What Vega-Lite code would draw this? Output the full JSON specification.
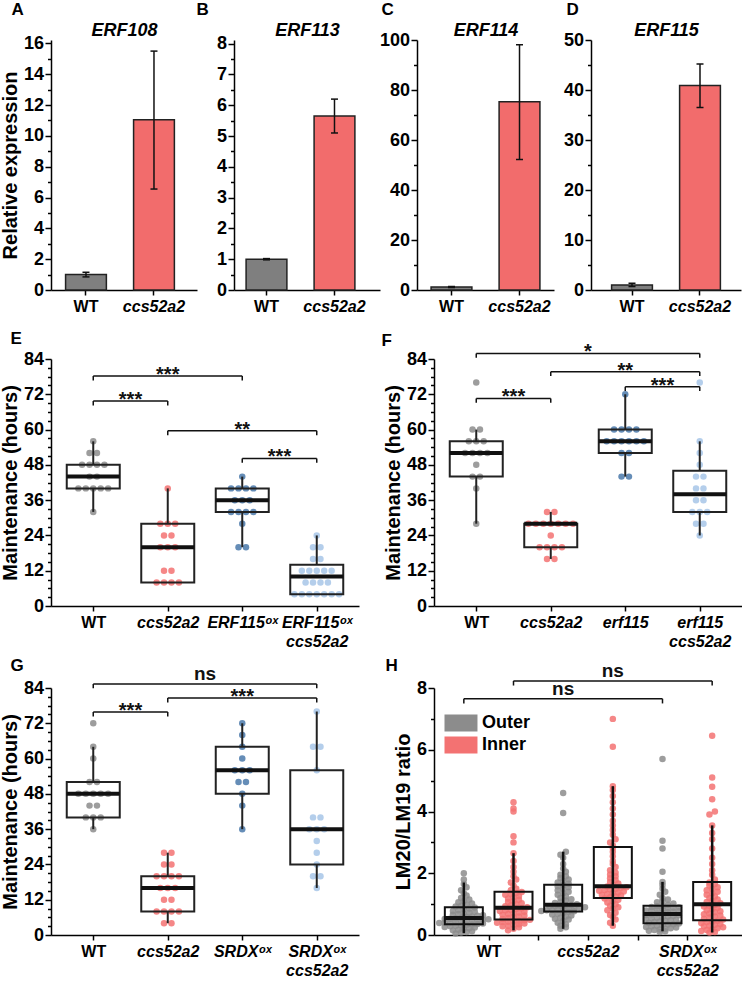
{
"$schema":"https://vega.github.io/schema/vega-lite/v6.json",
"padding":{"left":0,"top":0,"right":0,"bottom":0},
"background":"white",
"config":{
 "font":"Liberation Sans",
 "view":{"stroke":null},
 "axis":{"grid":false,"domainColor":"#000","domainWidth":1.5,"tickColor":"#000","tickWidth":1.5,"labelColor":"#000","labelFont":"Liberation Sans","labelFontWeight":"bold","labelFontSize":18,"titleFont":"Liberation Sans","titleFontWeight":"bold","titleFontSize":20,"titleColor":"#000","labelPadding":1.5,"titlePadding":3,"labelOverlap":false,"tickSize":6},
 "axisX":{"labelFontSize":16,"labelAngle":0,"tickSize":5,"labelPadding":3,"labelLineHeight":19},
 "legend":{"padding":0}
},
"datasets":{
 "eDots":[
  {"g":"WT","v":56},{"g":"WT","v":52},{"g":"WT","v":52},{"g":"WT","v":48},{"g":"WT","v":48},{"g":"WT","v":48},{"g":"WT","v":48},{"g":"WT","v":44},{"g":"WT","v":44},{"g":"WT","v":40},{"g":"WT","v":40},{"g":"WT","v":40},{"g":"WT","v":40},{"g":"WT","v":40},{"g":"WT","v":32},
  {"g":"ccs52a2","v":40},{"g":"ccs52a2","v":28},{"g":"ccs52a2","v":28},{"g":"ccs52a2","v":28},{"g":"ccs52a2","v":24},{"g":"ccs52a2","v":24},{"g":"ccs52a2","v":20},{"g":"ccs52a2","v":20},{"g":"ccs52a2","v":20},{"g":"ccs52a2","v":12},{"g":"ccs52a2","v":12},{"g":"ccs52a2","v":8},{"g":"ccs52a2","v":8},{"g":"ccs52a2","v":8},{"g":"ccs52a2","v":8},
  {"g":"ERF115ox","v":44},{"g":"ERF115ox","v":40},{"g":"ERF115ox","v":40},{"g":"ERF115ox","v":40},{"g":"ERF115ox","v":40},{"g":"ERF115ox","v":36},{"g":"ERF115ox","v":36},{"g":"ERF115ox","v":36},{"g":"ERF115ox","v":32},{"g":"ERF115ox","v":32},{"g":"ERF115ox","v":32},{"g":"ERF115ox","v":32},{"g":"ERF115ox","v":28},{"g":"ERF115ox","v":20},{"g":"ERF115ox","v":20},
  {"g":"ERF115ox ccs52a2","v":24},{"g":"ERF115ox ccs52a2","v":20},{"g":"ERF115ox ccs52a2","v":20},{"g":"ERF115ox ccs52a2","v":16},{"g":"ERF115ox ccs52a2","v":16},{"g":"ERF115ox ccs52a2","v":12},{"g":"ERF115ox ccs52a2","v":12},{"g":"ERF115ox ccs52a2","v":12},{"g":"ERF115ox ccs52a2","v":12},{"g":"ERF115ox ccs52a2","v":12},{"g":"ERF115ox ccs52a2","v":8},{"g":"ERF115ox ccs52a2","v":8},{"g":"ERF115ox ccs52a2","v":8},{"g":"ERF115ox ccs52a2","v":8},{"g":"ERF115ox ccs52a2","v":4},{"g":"ERF115ox ccs52a2","v":4},{"g":"ERF115ox ccs52a2","v":4},{"g":"ERF115ox ccs52a2","v":4},{"g":"ERF115ox ccs52a2","v":4},{"g":"ERF115ox ccs52a2","v":4},{"g":"ERF115ox ccs52a2","v":4}
 ],
 "eBox":[
  {"g":"WT","lo":32,"q1":40,"med":44,"q3":48,"hi":56},
  {"g":"ccs52a2","lo":8,"q1":8,"med":20,"q3":28,"hi":40},
  {"g":"ERF115ox","lo":20,"q1":32,"med":36,"q3":40,"hi":44},
  {"g":"ERF115ox ccs52a2","lo":4,"q1":4,"med":10,"q3":14,"hi":24}
 ],
 "eBr":[
  {"a":"WT","b":"ERF115ox","y":78.2,"lab":"***"},
  {"a":"WT","b":"ccs52a2","y":69.7,"lab":"***"},
  {"a":"ccs52a2","b":"ERF115ox ccs52a2","y":59.6,"lab":"**"},
  {"a":"ERF115ox","b":"ERF115ox ccs52a2","y":50.2,"lab":"***"}
 ],
 "fDots":[
  {"g":"WT","v":76},{"g":"WT","v":60},{"g":"WT","v":60},{"g":"WT","v":56},{"g":"WT","v":56},{"g":"WT","v":56},{"g":"WT","v":52},{"g":"WT","v":52},{"g":"WT","v":52},{"g":"WT","v":52},{"g":"WT","v":48},{"g":"WT","v":44},{"g":"WT","v":44},{"g":"WT","v":40},{"g":"WT","v":28},
  {"g":"ccs52a2","v":32},{"g":"ccs52a2","v":32},{"g":"ccs52a2","v":28},{"g":"ccs52a2","v":28},{"g":"ccs52a2","v":28},{"g":"ccs52a2","v":28},{"g":"ccs52a2","v":28},{"g":"ccs52a2","v":28},{"g":"ccs52a2","v":28},{"g":"ccs52a2","v":24},{"g":"ccs52a2","v":20},{"g":"ccs52a2","v":20},{"g":"ccs52a2","v":20},{"g":"ccs52a2","v":20},{"g":"ccs52a2","v":16},{"g":"ccs52a2","v":16},
  {"g":"erf115","v":72},{"g":"erf115","v":60},{"g":"erf115","v":60},{"g":"erf115","v":60},{"g":"erf115","v":60},{"g":"erf115","v":56},{"g":"erf115","v":56},{"g":"erf115","v":56},{"g":"erf115","v":56},{"g":"erf115","v":56},{"g":"erf115","v":56},{"g":"erf115","v":52},{"g":"erf115","v":52},{"g":"erf115","v":44},{"g":"erf115","v":44},
  {"g":"erf115 ccs52a2","v":76},{"g":"erf115 ccs52a2","v":56},{"g":"erf115 ccs52a2","v":52},{"g":"erf115 ccs52a2","v":48},{"g":"erf115 ccs52a2","v":44},{"g":"erf115 ccs52a2","v":44},{"g":"erf115 ccs52a2","v":40},{"g":"erf115 ccs52a2","v":40},{"g":"erf115 ccs52a2","v":36},{"g":"erf115 ccs52a2","v":36},{"g":"erf115 ccs52a2","v":32},{"g":"erf115 ccs52a2","v":32},{"g":"erf115 ccs52a2","v":32},{"g":"erf115 ccs52a2","v":28},{"g":"erf115 ccs52a2","v":28},{"g":"erf115 ccs52a2","v":24}
 ],
 "fBox":[
  {"g":"WT","lo":28,"q1":44,"med":52,"q3":56,"hi":60},
  {"g":"ccs52a2","lo":16,"q1":20,"med":28,"q3":28,"hi":32},
  {"g":"erf115","lo":44,"q1":52,"med":56,"q3":60,"hi":72},
  {"g":"erf115 ccs52a2","lo":24,"q1":32,"med":38,"q3":46,"hi":56}
 ],
 "fBr":[
  {"a":"WT","b":"erf115 ccs52a2","y":85.9,"lab":"*"},
  {"a":"ccs52a2","b":"erf115 ccs52a2","y":79.7,"lab":"**"},
  {"a":"erf115","b":"erf115 ccs52a2","y":74.6,"lab":"***"},
  {"a":"WT","b":"ccs52a2","y":70.6,"lab":"***"}
 ],
 "gDots":[
  {"g":"WT","v":72},{"g":"WT","v":64},{"g":"WT","v":60},{"g":"WT","v":52},{"g":"WT","v":52},{"g":"WT","v":48},{"g":"WT","v":48},{"g":"WT","v":48},{"g":"WT","v":48},{"g":"WT","v":48},{"g":"WT","v":44},{"g":"WT","v":44},{"g":"WT","v":40},{"g":"WT","v":40},{"g":"WT","v":40},{"g":"WT","v":36},
  {"g":"ccs52a2","v":28},{"g":"ccs52a2","v":28},{"g":"ccs52a2","v":24},{"g":"ccs52a2","v":24},{"g":"ccs52a2","v":20},{"g":"ccs52a2","v":20},{"g":"ccs52a2","v":20},{"g":"ccs52a2","v":20},{"g":"ccs52a2","v":16},{"g":"ccs52a2","v":16},{"g":"ccs52a2","v":16},{"g":"ccs52a2","v":12},{"g":"ccs52a2","v":12},{"g":"ccs52a2","v":8},{"g":"ccs52a2","v":8},{"g":"ccs52a2","v":8},{"g":"ccs52a2","v":8},{"g":"ccs52a2","v":4},{"g":"ccs52a2","v":4},
  {"g":"SRDXox","v":72},{"g":"SRDXox","v":68},{"g":"SRDXox","v":64},{"g":"SRDXox","v":60},{"g":"SRDXox","v":56},{"g":"SRDXox","v":56},{"g":"SRDXox","v":56},{"g":"SRDXox","v":52},{"g":"SRDXox","v":52},{"g":"SRDXox","v":48},{"g":"SRDXox","v":44},{"g":"SRDXox","v":36},
  {"g":"SRDXox ccs52a2","v":76},{"g":"SRDXox ccs52a2","v":64},{"g":"SRDXox ccs52a2","v":64},{"g":"SRDXox ccs52a2","v":56},{"g":"SRDXox ccs52a2","v":40},{"g":"SRDXox ccs52a2","v":40},{"g":"SRDXox ccs52a2","v":36},{"g":"SRDXox ccs52a2","v":36},{"g":"SRDXox ccs52a2","v":36},{"g":"SRDXox ccs52a2","v":32},{"g":"SRDXox ccs52a2","v":28},{"g":"SRDXox ccs52a2","v":24},{"g":"SRDXox ccs52a2","v":20},{"g":"SRDXox ccs52a2","v":20},{"g":"SRDXox ccs52a2","v":16}
 ],
 "gBox":[
  {"g":"WT","lo":36,"q1":40,"med":48,"q3":52,"hi":64},
  {"g":"ccs52a2","lo":4,"q1":8,"med":16,"q3":20,"hi":28},
  {"g":"SRDXox","lo":36,"q1":48,"med":56,"q3":64,"hi":72},
  {"g":"SRDXox ccs52a2","lo":16,"q1":24,"med":36,"q3":56,"hi":76}
 ],
 "gBr":[
  {"a":"WT","b":"SRDXox ccs52a2","y":85.4,"lab":"ns"},
  {"a":"WT","b":"ccs52a2","y":75.8,"lab":"***"},
  {"a":"ccs52a2","b":"SRDXox ccs52a2","y":80.6,"lab":"***"}
 ],
 "hBox":[
  {"g":"WT","t":"Outer","lo":0.06,"q1":0.35,"med":0.55,"q3":0.9,"hi":1.7},
  {"g":"WT","t":"Inner","lo":0.15,"q1":0.5,"med":0.88,"q3":1.4,"hi":2.65},
  {"g":"ccs","t":"Outer","lo":0.2,"q1":0.76,"med":0.98,"q3":1.63,"hi":2.7},
  {"g":"ccs","t":"Inner","lo":0.3,"q1":1.2,"med":1.58,"q3":2.85,"hi":4.82},
  {"g":"SRDX","t":"Outer","lo":0.12,"q1":0.38,"med":0.68,"q3":0.95,"hi":1.72},
  {"g":"SRDX","t":"Inner","lo":0.08,"q1":0.48,"med":1.0,"q3":1.72,"hi":3.55}
 ],
 "hBr":[
  {"a":"WT","at":"Inner","b":"SRDX","bt":"Inner","y":8.23,"lab":"ns"},
  {"a":"WT","at":"Outer","b":"SRDX","bt":"Outer","y":7.65,"lab":"ns"}
 ],
 "hDots":[
  {"g":"WT","t":"Outer","v":0.05},{"g":"WT","t":"Outer","v":0.08},{"g":"WT","t":"Outer","v":0.1},{"g":"WT","t":"Outer","v":0.12},{"g":"WT","t":"Outer","v":0.15},{"g":"WT","t":"Outer","v":0.17},{"g":"WT","t":"Outer","v":0.2},{"g":"WT","t":"Outer","v":0.22},{"g":"WT","t":"Outer","v":0.24},{"g":"WT","t":"Outer","v":0.26},{"g":"WT","t":"Outer","v":0.28},{"g":"WT","t":"Outer","v":0.3},{"g":"WT","t":"Outer","v":0.31},{"g":"WT","t":"Outer","v":0.33},{"g":"WT","t":"Outer","v":0.34},{"g":"WT","t":"Outer","v":0.36},{"g":"WT","t":"Outer","v":0.37},{"g":"WT","t":"Outer","v":0.39},{"g":"WT","t":"Outer","v":0.4},{"g":"WT","t":"Outer","v":0.41},{"g":"WT","t":"Outer","v":0.43},{"g":"WT","t":"Outer","v":0.44},{"g":"WT","t":"Outer","v":0.45},{"g":"WT","t":"Outer","v":0.47},{"g":"WT","t":"Outer","v":0.48},{"g":"WT","t":"Outer","v":0.5},{"g":"WT","t":"Outer","v":0.51},{"g":"WT","t":"Outer","v":0.52},{"g":"WT","t":"Outer","v":0.53},{"g":"WT","t":"Outer","v":0.54},{"g":"WT","t":"Outer","v":0.56},{"g":"WT","t":"Outer","v":0.58},{"g":"WT","t":"Outer","v":0.6},{"g":"WT","t":"Outer","v":0.62},{"g":"WT","t":"Outer","v":0.64},{"g":"WT","t":"Outer","v":0.66},{"g":"WT","t":"Outer","v":0.68},{"g":"WT","t":"Outer","v":0.7},{"g":"WT","t":"Outer","v":0.72},{"g":"WT","t":"Outer","v":0.75},{"g":"WT","t":"Outer","v":0.78},{"g":"WT","t":"Outer","v":0.8},{"g":"WT","t":"Outer","v":0.83},{"g":"WT","t":"Outer","v":0.86},{"g":"WT","t":"Outer","v":0.89},{"g":"WT","t":"Outer","v":0.92},{"g":"WT","t":"Outer","v":0.95},{"g":"WT","t":"Outer","v":0.98},{"g":"WT","t":"Outer","v":1.02},{"g":"WT","t":"Outer","v":1.06},{"g":"WT","t":"Outer","v":1.1},{"g":"WT","t":"Outer","v":1.15},{"g":"WT","t":"Outer","v":1.2},{"g":"WT","t":"Outer","v":1.28},{"g":"WT","t":"Outer","v":1.35},{"g":"WT","t":"Outer","v":1.45},{"g":"WT","t":"Outer","v":1.55},{"g":"WT","t":"Outer","v":1.65},{"g":"WT","t":"Outer","v":1.8},{"g":"WT","t":"Outer","v":2.0},
  {"g":"WT","t":"Inner","v":0.15},{"g":"WT","t":"Inner","v":0.2},{"g":"WT","t":"Inner","v":0.25},{"g":"WT","t":"Inner","v":0.28},{"g":"WT","t":"Inner","v":0.3},{"g":"WT","t":"Inner","v":0.33},{"g":"WT","t":"Inner","v":0.35},{"g":"WT","t":"Inner","v":0.37},{"g":"WT","t":"Inner","v":0.4},{"g":"WT","t":"Inner","v":0.42},{"g":"WT","t":"Inner","v":0.43},{"g":"WT","t":"Inner","v":0.45},{"g":"WT","t":"Inner","v":0.46},{"g":"WT","t":"Inner","v":0.48},{"g":"WT","t":"Inner","v":0.49},{"g":"WT","t":"Inner","v":0.52},{"g":"WT","t":"Inner","v":0.55},{"g":"WT","t":"Inner","v":0.58},{"g":"WT","t":"Inner","v":0.6},{"g":"WT","t":"Inner","v":0.63},{"g":"WT","t":"Inner","v":0.66},{"g":"WT","t":"Inner","v":0.68},{"g":"WT","t":"Inner","v":0.7},{"g":"WT","t":"Inner","v":0.73},{"g":"WT","t":"Inner","v":0.75},{"g":"WT","t":"Inner","v":0.78},{"g":"WT","t":"Inner","v":0.8},{"g":"WT","t":"Inner","v":0.82},{"g":"WT","t":"Inner","v":0.85},{"g":"WT","t":"Inner","v":0.87},{"g":"WT","t":"Inner","v":0.9},{"g":"WT","t":"Inner","v":0.93},{"g":"WT","t":"Inner","v":0.96},{"g":"WT","t":"Inner","v":1.0},{"g":"WT","t":"Inner","v":1.03},{"g":"WT","t":"Inner","v":1.07},{"g":"WT","t":"Inner","v":1.1},{"g":"WT","t":"Inner","v":1.14},{"g":"WT","t":"Inner","v":1.18},{"g":"WT","t":"Inner","v":1.22},{"g":"WT","t":"Inner","v":1.26},{"g":"WT","t":"Inner","v":1.3},{"g":"WT","t":"Inner","v":1.33},{"g":"WT","t":"Inner","v":1.36},{"g":"WT","t":"Inner","v":1.39},{"g":"WT","t":"Inner","v":1.45},{"g":"WT","t":"Inner","v":1.5},{"g":"WT","t":"Inner","v":1.6},{"g":"WT","t":"Inner","v":1.7},{"g":"WT","t":"Inner","v":1.8},{"g":"WT","t":"Inner","v":1.9},{"g":"WT","t":"Inner","v":2.05},{"g":"WT","t":"Inner","v":2.2},{"g":"WT","t":"Inner","v":2.4},{"g":"WT","t":"Inner","v":2.65},{"g":"WT","t":"Inner","v":3.0},{"g":"WT","t":"Inner","v":3.2},{"g":"WT","t":"Inner","v":4.0},{"g":"WT","t":"Inner","v":4.1},{"g":"WT","t":"Inner","v":4.3},
  {"g":"ccs","t":"Outer","v":0.2},{"g":"ccs","t":"Outer","v":0.25},{"g":"ccs","t":"Outer","v":0.3},{"g":"ccs","t":"Outer","v":0.35},{"g":"ccs","t":"Outer","v":0.4},{"g":"ccs","t":"Outer","v":0.45},{"g":"ccs","t":"Outer","v":0.5},{"g":"ccs","t":"Outer","v":0.53},{"g":"ccs","t":"Outer","v":0.56},{"g":"ccs","t":"Outer","v":0.6},{"g":"ccs","t":"Outer","v":0.63},{"g":"ccs","t":"Outer","v":0.66},{"g":"ccs","t":"Outer","v":0.69},{"g":"ccs","t":"Outer","v":0.72},{"g":"ccs","t":"Outer","v":0.75},{"g":"ccs","t":"Outer","v":0.77},{"g":"ccs","t":"Outer","v":0.78},{"g":"ccs","t":"Outer","v":0.8},{"g":"ccs","t":"Outer","v":0.81},{"g":"ccs","t":"Outer","v":0.83},{"g":"ccs","t":"Outer","v":0.84},{"g":"ccs","t":"Outer","v":0.86},{"g":"ccs","t":"Outer","v":0.87},{"g":"ccs","t":"Outer","v":0.89},{"g":"ccs","t":"Outer","v":0.9},{"g":"ccs","t":"Outer","v":0.92},{"g":"ccs","t":"Outer","v":0.93},{"g":"ccs","t":"Outer","v":0.95},{"g":"ccs","t":"Outer","v":0.96},{"g":"ccs","t":"Outer","v":0.97},{"g":"ccs","t":"Outer","v":1.0},{"g":"ccs","t":"Outer","v":1.04},{"g":"ccs","t":"Outer","v":1.08},{"g":"ccs","t":"Outer","v":1.12},{"g":"ccs","t":"Outer","v":1.16},{"g":"ccs","t":"Outer","v":1.2},{"g":"ccs","t":"Outer","v":1.25},{"g":"ccs","t":"Outer","v":1.3},{"g":"ccs","t":"Outer","v":1.35},{"g":"ccs","t":"Outer","v":1.4},{"g":"ccs","t":"Outer","v":1.45},{"g":"ccs","t":"Outer","v":1.5},{"g":"ccs","t":"Outer","v":1.55},{"g":"ccs","t":"Outer","v":1.58},{"g":"ccs","t":"Outer","v":1.62},{"g":"ccs","t":"Outer","v":1.66},{"g":"ccs","t":"Outer","v":1.7},{"g":"ccs","t":"Outer","v":1.75},{"g":"ccs","t":"Outer","v":1.8},{"g":"ccs","t":"Outer","v":1.85},{"g":"ccs","t":"Outer","v":1.9},{"g":"ccs","t":"Outer","v":1.95},{"g":"ccs","t":"Outer","v":2.05},{"g":"ccs","t":"Outer","v":2.15},{"g":"ccs","t":"Outer","v":2.3},{"g":"ccs","t":"Outer","v":2.5},{"g":"ccs","t":"Outer","v":2.6},{"g":"ccs","t":"Outer","v":2.7},{"g":"ccs","t":"Outer","v":3.95},{"g":"ccs","t":"Outer","v":4.6},
  {"g":"ccs","t":"Inner","v":0.3},{"g":"ccs","t":"Inner","v":0.4},{"g":"ccs","t":"Inner","v":0.5},{"g":"ccs","t":"Inner","v":0.58},{"g":"ccs","t":"Inner","v":0.65},{"g":"ccs","t":"Inner","v":0.72},{"g":"ccs","t":"Inner","v":0.8},{"g":"ccs","t":"Inner","v":0.85},{"g":"ccs","t":"Inner","v":0.9},{"g":"ccs","t":"Inner","v":0.95},{"g":"ccs","t":"Inner","v":1.0},{"g":"ccs","t":"Inner","v":1.05},{"g":"ccs","t":"Inner","v":1.1},{"g":"ccs","t":"Inner","v":1.14},{"g":"ccs","t":"Inner","v":1.18},{"g":"ccs","t":"Inner","v":1.22},{"g":"ccs","t":"Inner","v":1.25},{"g":"ccs","t":"Inner","v":1.28},{"g":"ccs","t":"Inner","v":1.3},{"g":"ccs","t":"Inner","v":1.33},{"g":"ccs","t":"Inner","v":1.36},{"g":"ccs","t":"Inner","v":1.38},{"g":"ccs","t":"Inner","v":1.41},{"g":"ccs","t":"Inner","v":1.43},{"g":"ccs","t":"Inner","v":1.46},{"g":"ccs","t":"Inner","v":1.48},{"g":"ccs","t":"Inner","v":1.5},{"g":"ccs","t":"Inner","v":1.53},{"g":"ccs","t":"Inner","v":1.55},{"g":"ccs","t":"Inner","v":1.57},{"g":"ccs","t":"Inner","v":1.62},{"g":"ccs","t":"Inner","v":1.67},{"g":"ccs","t":"Inner","v":1.72},{"g":"ccs","t":"Inner","v":1.78},{"g":"ccs","t":"Inner","v":1.84},{"g":"ccs","t":"Inner","v":1.9},{"g":"ccs","t":"Inner","v":1.96},{"g":"ccs","t":"Inner","v":2.02},{"g":"ccs","t":"Inner","v":2.1},{"g":"ccs","t":"Inner","v":2.2},{"g":"ccs","t":"Inner","v":2.3},{"g":"ccs","t":"Inner","v":2.4},{"g":"ccs","t":"Inner","v":2.55},{"g":"ccs","t":"Inner","v":2.7},{"g":"ccs","t":"Inner","v":2.82},{"g":"ccs","t":"Inner","v":2.9},{"g":"ccs","t":"Inner","v":3.0},{"g":"ccs","t":"Inner","v":3.1},{"g":"ccs","t":"Inner","v":3.25},{"g":"ccs","t":"Inner","v":3.4},{"g":"ccs","t":"Inner","v":3.55},{"g":"ccs","t":"Inner","v":3.7},{"g":"ccs","t":"Inner","v":3.9},{"g":"ccs","t":"Inner","v":4.1},{"g":"ccs","t":"Inner","v":4.3},{"g":"ccs","t":"Inner","v":4.5},{"g":"ccs","t":"Inner","v":4.7},{"g":"ccs","t":"Inner","v":4.82},{"g":"ccs","t":"Inner","v":6.1},{"g":"ccs","t":"Inner","v":7.0},
  {"g":"SRDX","t":"Outer","v":0.1},{"g":"SRDX","t":"Outer","v":0.12},{"g":"SRDX","t":"Outer","v":0.14},{"g":"SRDX","t":"Outer","v":0.16},{"g":"SRDX","t":"Outer","v":0.18},{"g":"SRDX","t":"Outer","v":0.2},{"g":"SRDX","t":"Outer","v":0.22},{"g":"SRDX","t":"Outer","v":0.24},{"g":"SRDX","t":"Outer","v":0.26},{"g":"SRDX","t":"Outer","v":0.28},{"g":"SRDX","t":"Outer","v":0.3},{"g":"SRDX","t":"Outer","v":0.32},{"g":"SRDX","t":"Outer","v":0.34},{"g":"SRDX","t":"Outer","v":0.35},{"g":"SRDX","t":"Outer","v":0.37},{"g":"SRDX","t":"Outer","v":0.4},{"g":"SRDX","t":"Outer","v":0.42},{"g":"SRDX","t":"Outer","v":0.44},{"g":"SRDX","t":"Outer","v":0.46},{"g":"SRDX","t":"Outer","v":0.48},{"g":"SRDX","t":"Outer","v":0.5},{"g":"SRDX","t":"Outer","v":0.52},{"g":"SRDX","t":"Outer","v":0.54},{"g":"SRDX","t":"Outer","v":0.56},{"g":"SRDX","t":"Outer","v":0.58},{"g":"SRDX","t":"Outer","v":0.6},{"g":"SRDX","t":"Outer","v":0.62},{"g":"SRDX","t":"Outer","v":0.64},{"g":"SRDX","t":"Outer","v":0.65},{"g":"SRDX","t":"Outer","v":0.67},{"g":"SRDX","t":"Outer","v":0.7},{"g":"SRDX","t":"Outer","v":0.72},{"g":"SRDX","t":"Outer","v":0.74},{"g":"SRDX","t":"Outer","v":0.75},{"g":"SRDX","t":"Outer","v":0.77},{"g":"SRDX","t":"Outer","v":0.79},{"g":"SRDX","t":"Outer","v":0.8},{"g":"SRDX","t":"Outer","v":0.82},{"g":"SRDX","t":"Outer","v":0.84},{"g":"SRDX","t":"Outer","v":0.86},{"g":"SRDX","t":"Outer","v":0.88},{"g":"SRDX","t":"Outer","v":0.9},{"g":"SRDX","t":"Outer","v":0.91},{"g":"SRDX","t":"Outer","v":0.93},{"g":"SRDX","t":"Outer","v":0.94},{"g":"SRDX","t":"Outer","v":0.98},{"g":"SRDX","t":"Outer","v":1.02},{"g":"SRDX","t":"Outer","v":1.06},{"g":"SRDX","t":"Outer","v":1.1},{"g":"SRDX","t":"Outer","v":1.15},{"g":"SRDX","t":"Outer","v":1.2},{"g":"SRDX","t":"Outer","v":1.3},{"g":"SRDX","t":"Outer","v":1.4},{"g":"SRDX","t":"Outer","v":1.5},{"g":"SRDX","t":"Outer","v":1.62},{"g":"SRDX","t":"Outer","v":1.72},{"g":"SRDX","t":"Outer","v":2.05},{"g":"SRDX","t":"Outer","v":2.8},{"g":"SRDX","t":"Outer","v":3.05},{"g":"SRDX","t":"Outer","v":5.7},
  {"g":"SRDX","t":"Inner","v":0.08},{"g":"SRDX","t":"Inner","v":0.1},{"g":"SRDX","t":"Inner","v":0.13},{"g":"SRDX","t":"Inner","v":0.16},{"g":"SRDX","t":"Inner","v":0.19},{"g":"SRDX","t":"Inner","v":0.22},{"g":"SRDX","t":"Inner","v":0.25},{"g":"SRDX","t":"Inner","v":0.28},{"g":"SRDX","t":"Inner","v":0.3},{"g":"SRDX","t":"Inner","v":0.33},{"g":"SRDX","t":"Inner","v":0.36},{"g":"SRDX","t":"Inner","v":0.39},{"g":"SRDX","t":"Inner","v":0.42},{"g":"SRDX","t":"Inner","v":0.44},{"g":"SRDX","t":"Inner","v":0.46},{"g":"SRDX","t":"Inner","v":0.5},{"g":"SRDX","t":"Inner","v":0.53},{"g":"SRDX","t":"Inner","v":0.57},{"g":"SRDX","t":"Inner","v":0.6},{"g":"SRDX","t":"Inner","v":0.63},{"g":"SRDX","t":"Inner","v":0.67},{"g":"SRDX","t":"Inner","v":0.7},{"g":"SRDX","t":"Inner","v":0.74},{"g":"SRDX","t":"Inner","v":0.77},{"g":"SRDX","t":"Inner","v":0.8},{"g":"SRDX","t":"Inner","v":0.84},{"g":"SRDX","t":"Inner","v":0.88},{"g":"SRDX","t":"Inner","v":0.92},{"g":"SRDX","t":"Inner","v":0.95},{"g":"SRDX","t":"Inner","v":0.98},{"g":"SRDX","t":"Inner","v":1.03},{"g":"SRDX","t":"Inner","v":1.07},{"g":"SRDX","t":"Inner","v":1.1},{"g":"SRDX","t":"Inner","v":1.15},{"g":"SRDX","t":"Inner","v":1.2},{"g":"SRDX","t":"Inner","v":1.25},{"g":"SRDX","t":"Inner","v":1.3},{"g":"SRDX","t":"Inner","v":1.35},{"g":"SRDX","t":"Inner","v":1.4},{"g":"SRDX","t":"Inner","v":1.45},{"g":"SRDX","t":"Inner","v":1.5},{"g":"SRDX","t":"Inner","v":1.55},{"g":"SRDX","t":"Inner","v":1.6},{"g":"SRDX","t":"Inner","v":1.65},{"g":"SRDX","t":"Inner","v":1.7},{"g":"SRDX","t":"Inner","v":1.8},{"g":"SRDX","t":"Inner","v":1.95},{"g":"SRDX","t":"Inner","v":2.1},{"g":"SRDX","t":"Inner","v":2.3},{"g":"SRDX","t":"Inner","v":2.5},{"g":"SRDX","t":"Inner","v":2.8},{"g":"SRDX","t":"Inner","v":3.1},{"g":"SRDX","t":"Inner","v":3.3},{"g":"SRDX","t":"Inner","v":3.55},{"g":"SRDX","t":"Inner","v":3.9},{"g":"SRDX","t":"Inner","v":4.0},{"g":"SRDX","t":"Inner","v":4.4},{"g":"SRDX","t":"Inner","v":4.8},{"g":"SRDX","t":"Inner","v":5.1},{"g":"SRDX","t":"Inner","v":6.45}
 ]
},
"spacing":15,
"resolve":{"scale":{"x":"independent","y":"independent","color":"independent"},"legend":{"color":"independent"}},
"vconcat":[
 {"spacing":37,"bounds":"flush",
  "resolve":{"scale":{"x":"independent","y":"independent","color":"independent"},"legend":{"color":"independent"}},
  "hconcat":[
   {"width":146,"height":250,
    "data":{"values":[{"g":"WT","v":1.0,"lo":0.85,"hi":1.15},{"g":"ccs52a2","v":11.05,"lo":6.55,"hi":15.5}]},
    "resolve":{"axis":{"x":"independent","y":"independent"}},
    "layer":[
     {"mark":{"type":"bar","stroke":"#222","strokeWidth":1.5},
      "encoding":{
       "x":{"field":"g","type":"nominal","sort":["WT","ccs52a2"],"scale":{"paddingInner":0.4,"paddingOuter":0.2735,"align":0.392},"axis":{"title":null,"labelFontStyle":{"condition":{"test":"datum.value == 'WT'","value":"normal"},"value":"italic"}}},
       "y":{"field":"v","type":"quantitative","scale":{"domain":[0,16.22],"nice":false},"axis":{"title":"Relative expression","values":[0,2,4,6,8,10,12,14,16]}},
       "color":{"field":"g","type":"nominal","scale":{"domain":["WT","ccs52a2"],"range":["#7f7f7f","#f26c6c"]},"legend":null}}},
     {"mark":{"type":"rule","color":"#111","strokeWidth":1.5},
      "encoding":{
       "x":{"field":"g","type":"nominal","sort":["WT","ccs52a2"],"scale":{"paddingInner":0.4,"paddingOuter":0.2735,"align":0.392},"axis":null},
       "y":{"field":"lo","type":"quantitative","scale":{"domain":[0,16.22],"nice":false},"axis":{"orient":"left","title":null,"values":[1,3,5,7,9,11,13,15],"labels":false,"domain":false,"tickSize":3.5}},
       "y2":{"field":"hi"}}},
     {"mark":{"type":"tick","orient":"horizontal","size":7,"thickness":1.5,"color":"#111","opacity":1},
      "encoding":{
       "x":{"field":"g","type":"nominal","sort":["WT","ccs52a2"],"scale":{"paddingInner":0.4,"paddingOuter":0.2735,"align":0.392},"axis":{"orient":"top","title":"ERF108","labels":false,"ticks":false,"domain":false,"titleFontStyle":"italic","titleFontSize":18,"titlePadding":1}},
       "y":{"field":"lo","type":"quantitative","scale":{"domain":[0,16.22],"nice":false},"axis":null}}},
     {"mark":{"type":"tick","orient":"horizontal","size":7,"thickness":1.5,"color":"#111","opacity":1},
      "encoding":{
       "x":{"field":"g","type":"nominal","sort":["WT","ccs52a2"],"scale":{"paddingInner":0.4,"paddingOuter":0.2735,"align":0.392},"axis":{"orient":"top","title":"A","titleX":-40,"titleY":-26,"titleAlign":"left","titleBaseline":"alphabetic","titleAngle":0,"titleFontSize":17,"labels":false,"ticks":false,"domain":false}},
       "y":{"field":"hi","type":"quantitative","scale":{"domain":[0,16.22],"nice":false},"axis":null}}}
    ]},
   {"width":146,"height":250,
    "data":{"values":[{"g":"WT","v":1.0,"lo":0.98,"hi":1.02},{"g":"ccs52a2","v":5.65,"lo":5.1,"hi":6.2}]},
    "resolve":{"axis":{"x":"independent","y":"independent"}},
    "layer":[
     {"mark":{"type":"bar","stroke":"#222","strokeWidth":1.5},
      "encoding":{
       "x":{"field":"g","type":"nominal","sort":["WT","ccs52a2"],"scale":{"paddingInner":0.4,"paddingOuter":0.2735,"align":0.325},"axis":{"title":null,"labelFontStyle":{"condition":{"test":"datum.value == 'WT'","value":"normal"},"value":"italic"}}},
       "y":{"field":"v","type":"quantitative","scale":{"domain":[0,8.12],"nice":false},"axis":{"title":null,"values":[0,1,2,3,4,5,6,7,8]}},
       "color":{"field":"g","type":"nominal","scale":{"domain":["WT","ccs52a2"],"range":["#7f7f7f","#f26c6c"]},"legend":null}}},
     {"mark":{"type":"rule","color":"#111","strokeWidth":1.5},
      "encoding":{
       "x":{"field":"g","type":"nominal","sort":["WT","ccs52a2"],"scale":{"paddingInner":0.4,"paddingOuter":0.2735,"align":0.325},"axis":null},
       "y":{"field":"lo","type":"quantitative","scale":{"domain":[0,8.12],"nice":false},"axis":{"orient":"left","title":null,"values":[0.5,1.5,2.5,3.5,4.5,5.5,6.5,7.5],"labels":false,"domain":false,"tickSize":3.5}},
       "y2":{"field":"hi"}}},
     {"mark":{"type":"tick","orient":"horizontal","size":7,"thickness":1.5,"color":"#111","opacity":1},
      "encoding":{
       "x":{"field":"g","type":"nominal","sort":["WT","ccs52a2"],"scale":{"paddingInner":0.4,"paddingOuter":0.2735,"align":0.325},"axis":{"orient":"top","title":"ERF113","labels":false,"ticks":false,"domain":false,"titleFontStyle":"italic","titleFontSize":18,"titlePadding":1}},
       "y":{"field":"lo","type":"quantitative","scale":{"domain":[0,8.12],"nice":false},"axis":null}}},
     {"mark":{"type":"tick","orient":"horizontal","size":7,"thickness":1.5,"color":"#111","opacity":1},
      "encoding":{
       "x":{"field":"g","type":"nominal","sort":["WT","ccs52a2"],"scale":{"paddingInner":0.4,"paddingOuter":0.2735,"align":0.325},"axis":{"orient":"top","title":"B","titleX":-38,"titleY":-26,"titleAlign":"left","titleBaseline":"alphabetic","titleAngle":0,"titleFontSize":17,"labels":false,"ticks":false,"domain":false}},
       "y":{"field":"hi","type":"quantitative","scale":{"domain":[0,8.12],"nice":false},"axis":null}}}
    ]},
   {"width":137,"height":250,
    "data":{"values":[{"g":"WT","v":1.2,"lo":1.0,"hi":1.4},{"g":"ccs52a2","v":75.3,"lo":52.2,"hi":98.1}]},
    "resolve":{"axis":{"x":"independent","y":"independent"}},
    "layer":[
     {"mark":{"type":"bar","stroke":"#222","strokeWidth":1.5},
      "encoding":{
       "x":{"field":"g","type":"nominal","sort":["WT","ccs52a2"],"scale":{"paddingInner":0.4,"paddingOuter":0.207},"axis":{"title":null,"labelFontStyle":{"condition":{"test":"datum.value == 'WT'","value":"normal"},"value":"italic"}}},
       "y":{"field":"v","type":"quantitative","scale":{"domain":[0,100],"nice":false},"axis":{"title":null,"values":[0,20,40,60,80,100]}},
       "color":{"field":"g","type":"nominal","scale":{"domain":["WT","ccs52a2"],"range":["#7f7f7f","#f26c6c"]},"legend":null}}},
     {"mark":{"type":"rule","color":"#111","strokeWidth":1.5},
      "encoding":{
       "x":{"field":"g","type":"nominal","sort":["WT","ccs52a2"],"scale":{"paddingInner":0.4,"paddingOuter":0.207},"axis":null},
       "y":{"field":"lo","type":"quantitative","scale":{"domain":[0,100],"nice":false},"axis":{"orient":"left","title":null,"values":[10,30,50,70,90],"labels":false,"domain":false,"tickSize":3.5}},
       "y2":{"field":"hi"}}},
     {"mark":{"type":"tick","orient":"horizontal","size":7,"thickness":1.5,"color":"#111","opacity":1},
      "encoding":{
       "x":{"field":"g","type":"nominal","sort":["WT","ccs52a2"],"scale":{"paddingInner":0.4,"paddingOuter":0.207},"axis":{"orient":"top","title":"ERF114","labels":false,"ticks":false,"domain":false,"titleFontStyle":"italic","titleFontSize":18,"titlePadding":1}},
       "y":{"field":"lo","type":"quantitative","scale":{"domain":[0,100],"nice":false},"axis":null}}},
     {"mark":{"type":"tick","orient":"horizontal","size":7,"thickness":1.5,"color":"#111","opacity":1},
      "encoding":{
       "x":{"field":"g","type":"nominal","sort":["WT","ccs52a2"],"scale":{"paddingInner":0.4,"paddingOuter":0.207},"axis":{"orient":"top","title":"C","titleX":-36,"titleY":-26,"titleAlign":"left","titleBaseline":"alphabetic","titleAngle":0,"titleFontSize":17,"labels":false,"ticks":false,"domain":false}},
       "y":{"field":"hi","type":"quantitative","scale":{"domain":[0,100],"nice":false},"axis":null}}}
    ]},
   {"width":150,"height":250,
    "data":{"values":[{"g":"WT","v":1.0,"lo":0.7,"hi":1.35},{"g":"ccs52a2","v":40.9,"lo":36.5,"hi":45.2}]},
    "resolve":{"axis":{"x":"independent","y":"independent"}},
    "layer":[
     {"mark":{"type":"bar","stroke":"#222","strokeWidth":1.5},
      "encoding":{
       "x":{"field":"g","type":"nominal","sort":["WT","ccs52a2"],"scale":{"paddingInner":0.4,"paddingOuter":0.303},"axis":{"title":null,"labelFontStyle":{"condition":{"test":"datum.value == 'WT'","value":"normal"},"value":"italic"}}},
       "y":{"field":"v","type":"quantitative","scale":{"domain":[0,50],"nice":false},"axis":{"title":null,"values":[0,10,20,30,40,50]}},
       "color":{"field":"g","type":"nominal","scale":{"domain":["WT","ccs52a2"],"range":["#7f7f7f","#f26c6c"]},"legend":null}}},
     {"mark":{"type":"rule","color":"#111","strokeWidth":1.5},
      "encoding":{
       "x":{"field":"g","type":"nominal","sort":["WT","ccs52a2"],"scale":{"paddingInner":0.4,"paddingOuter":0.303},"axis":null},
       "y":{"field":"lo","type":"quantitative","scale":{"domain":[0,50],"nice":false},"axis":{"orient":"left","title":null,"values":[5,15,25,35,45],"labels":false,"domain":false,"tickSize":3.5}},
       "y2":{"field":"hi"}}},
     {"mark":{"type":"tick","orient":"horizontal","size":7,"thickness":1.5,"color":"#111","opacity":1},
      "encoding":{
       "x":{"field":"g","type":"nominal","sort":["WT","ccs52a2"],"scale":{"paddingInner":0.4,"paddingOuter":0.303},"axis":{"orient":"top","title":"ERF115","labels":false,"ticks":false,"domain":false,"titleFontStyle":"italic","titleFontSize":18,"titlePadding":1}},
       "y":{"field":"lo","type":"quantitative","scale":{"domain":[0,50],"nice":false},"axis":null}}},
     {"mark":{"type":"tick","orient":"horizontal","size":7,"thickness":1.5,"color":"#111","opacity":1},
      "encoding":{
       "x":{"field":"g","type":"nominal","sort":["WT","ccs52a2"],"scale":{"paddingInner":0.4,"paddingOuter":0.303},"axis":{"orient":"top","title":"D","titleX":-25,"titleY":-26,"titleAlign":"left","titleBaseline":"alphabetic","titleAngle":0,"titleFontSize":17,"labels":false,"ticks":false,"domain":false}},
       "y":{"field":"hi","type":"quantitative","scale":{"domain":[0,50],"nice":false},"axis":null}}}
    ]}
 ]},
 {"columns":2,"spacing":{"row":82,"column":75},"bounds":"flush",
  "resolve":{"scale":{"x":"independent","y":"independent","color":"independent"},"legend":{"color":"independent"}},
  "concat":[
   {"width":308,"height":247,
    "resolve":{"axis":{"x":"independent","y":"independent"}},
    "layer":[
     {"data":{"name":"eDots"},
      "transform":[
       {"calculate":"indexof(['WT','ccs52a2','ERF115ox','ERF115ox ccs52a2'], datum.g) + 1","as":"i"},
       {"window":[{"op":"row_number","as":"r"}],"groupby":["g","v"]},
       {"joinaggregate":[{"op":"count","as":"n"}],"groupby":["g","v"]},
       {"calculate":"datum.i + (datum.r - (datum.n + 1) / 2) * 0.1","as":"xd"}],
      "mark":{"type":"circle","size":42,"opacity":0.85},
      "encoding":{
       "x":{"field":"xd","type":"quantitative","scale":{"domain":[0.5,4.5],"nice":false,"zero":false},"axis":{"title":null,"values":[1,2,3,4],"labelExpr":"['WT','ccs52a2','ERF115ᵒˣ',['ERF115ᵒˣ','ccs52a2']][datum.value - 1]","labelFontStyle":{"condition":{"test":"datum.value == 1","value":"normal"},"value":"italic"},"labelFlush":false,"labelBound":false}},
       "y":{"field":"v","type":"quantitative","scale":{"domain":[0,84],"nice":false},"axis":{"title":"Maintenance (hours)","values":[0,12,24,36,48,60,72,84]}},
       "color":{"field":"g","type":"nominal","scale":{"domain":["WT","ccs52a2","ERF115ox","ERF115ox ccs52a2"],"range":["#8c8c8c","#f37272","#4a79aa","#a7c5e7"]},"legend":null}}},
     {"data":{"name":"eBox"},
      "transform":[{"calculate":"indexof(['WT','ccs52a2','ERF115ox','ERF115ox ccs52a2'], datum.g) + 1","as":"i"}],
      "mark":{"type":"bar","size":53,"fillOpacity":0,"stroke":"#222","strokeWidth":2},
      "encoding":{"x":{"field":"i","type":"quantitative","scale":{"domain":[0.5,4.5],"nice":false,"zero":false},"axis":{"orient":"top","title":"E","titleX":-41,"titleY":-16,"titleAlign":"left","titleBaseline":"alphabetic","titleAngle":0,"titleFontSize":17,"labels":false,"ticks":false,"domain":false}},"y":{"field":"q1","type":"quantitative","scale":{"domain":[0,84],"nice":false},"axis":{"orient":"left","title":null,"values":[3,6,9,15,18,21,27,30,33,39,42,45,51,54,57,63,66,69,75,78,81],"labels":false,"domain":false,"tickSize":3.5}},"y2":{"field":"q3"}}},
     {"data":{"name":"eBox"},
      "transform":[{"calculate":"indexof(['WT','ccs52a2','ERF115ox','ERF115ox ccs52a2'], datum.g) + 1","as":"i"}],
      "layer":[
       {"mark":{"type":"rule","color":"#222","strokeWidth":2},
        "encoding":{"x":{"field":"i","type":"quantitative","scale":{"domain":[0.5,4.5],"nice":false,"zero":false},"axis":null},"y":{"field":"lo","type":"quantitative","scale":{"domain":[0,84],"nice":false},"axis":null},"y2":{"field":"q1"}}},
       {"mark":{"type":"rule","color":"#222","strokeWidth":2},
        "encoding":{"x":{"field":"i","type":"quantitative","scale":{"domain":[0.5,4.5],"nice":false,"zero":false},"axis":null},"y":{"field":"q3","type":"quantitative","scale":{"domain":[0,84],"nice":false},"axis":null},"y2":{"field":"hi"}}},
       {"mark":{"type":"tick","orient":"horizontal","size":53,"thickness":4,"color":"#111","opacity":1},
        "encoding":{"x":{"field":"i","type":"quantitative","scale":{"domain":[0.5,4.5],"nice":false,"zero":false},"axis":null},"y":{"field":"med","type":"quantitative","scale":{"domain":[0,84],"nice":false},"axis":null}}}
      ]},
     {"data":{"name":"eBr"},
      "transform":[
       {"calculate":"indexof(['WT','ccs52a2','ERF115ox','ERF115ox ccs52a2'], datum.a) + 1","as":"ia"},
       {"calculate":"indexof(['WT','ccs52a2','ERF115ox','ERF115ox ccs52a2'], datum.b) + 1","as":"ib"},
       {"calculate":"(datum.ia + datum.ib) / 2","as":"m"},
       {"calculate":"datum.y - 1.5","as":"yd"}],
      "layer":[
       {"mark":{"type":"rule","color":"#111","strokeWidth":1.5},
        "encoding":{"x":{"field":"ia","type":"quantitative","scale":{"domain":[0.5,4.5],"nice":false,"zero":false},"axis":null},"x2":{"field":"ib"},"y":{"field":"y","type":"quantitative","scale":{"domain":[0,84],"nice":false},"axis":null}}},
       {"mark":{"type":"rule","color":"#111","strokeWidth":1.5},
        "encoding":{"x":{"field":"ia","type":"quantitative","scale":{"domain":[0.5,4.5],"nice":false,"zero":false},"axis":null},"y":{"field":"y","type":"quantitative","scale":{"domain":[0,84],"nice":false},"axis":null},"y2":{"field":"yd"}}},
       {"mark":{"type":"rule","color":"#111","strokeWidth":1.5},
        "encoding":{"x":{"field":"ib","type":"quantitative","scale":{"domain":[0.5,4.5],"nice":false,"zero":false},"axis":null},"y":{"field":"y","type":"quantitative","scale":{"domain":[0,84],"nice":false},"axis":null},"y2":{"field":"yd"}}},
       {"mark":{"type":"text","fontSize":20,"fontWeight":"bold","baseline":"alphabetic","dy":5,"color":"#111"},
        "encoding":{"x":{"field":"m","type":"quantitative","scale":{"domain":[0.5,4.5],"nice":false,"zero":false},"axis":null},"y":{"field":"y","type":"quantitative","scale":{"domain":[0,84],"nice":false},"axis":null},"text":{"field":"lab"}}}
      ]}
    ]},
   {"width":308,"height":247,
    "resolve":{"axis":{"x":"independent","y":"independent"}},
    "layer":[
     {"data":{"name":"fDots"},
      "transform":[
       {"calculate":"indexof(['WT','ccs52a2','erf115','erf115 ccs52a2'], datum.g) + 1","as":"i"},
       {"window":[{"op":"row_number","as":"r"}],"groupby":["g","v"]},
       {"joinaggregate":[{"op":"count","as":"n"}],"groupby":["g","v"]},
       {"calculate":"datum.i + (datum.r - (datum.n + 1) / 2) * 0.1","as":"xd"}],
      "mark":{"type":"circle","size":42,"opacity":0.85},
      "encoding":{
       "x":{"field":"xd","type":"quantitative","scale":{"domain":[0.5,4.5],"nice":false,"zero":false},"axis":{"title":null,"values":[1,2,3,4],"labelExpr":"['WT','ccs52a2','erf115',['erf115','ccs52a2']][datum.value - 1]","labelFontStyle":{"condition":{"test":"datum.value == 1","value":"normal"},"value":"italic"},"labelFlush":false,"labelBound":false}},
       "y":{"field":"v","type":"quantitative","scale":{"domain":[0,84],"nice":false},"axis":{"title":"Maintenance (hours)","values":[0,12,24,36,48,60,72,84]}},
       "color":{"field":"g","type":"nominal","scale":{"domain":["WT","ccs52a2","erf115","erf115 ccs52a2"],"range":["#8c8c8c","#f37272","#4a79aa","#a7c5e7"]},"legend":null}}},
     {"data":{"name":"fBox"},
      "transform":[{"calculate":"indexof(['WT','ccs52a2','erf115','erf115 ccs52a2'], datum.g) + 1","as":"i"}],
      "mark":{"type":"bar","size":53,"fillOpacity":0,"stroke":"#222","strokeWidth":2},
      "encoding":{"x":{"field":"i","type":"quantitative","scale":{"domain":[0.5,4.5],"nice":false,"zero":false},"axis":{"orient":"top","title":"F","titleX":-53,"titleY":-14,"titleAlign":"left","titleBaseline":"alphabetic","titleAngle":0,"titleFontSize":17,"labels":false,"ticks":false,"domain":false}},"y":{"field":"q1","type":"quantitative","scale":{"domain":[0,84],"nice":false},"axis":{"orient":"left","title":null,"values":[3,6,9,15,18,21,27,30,33,39,42,45,51,54,57,63,66,69,75,78,81],"labels":false,"domain":false,"tickSize":3.5}},"y2":{"field":"q3"}}},
     {"data":{"name":"fBox"},
      "transform":[{"calculate":"indexof(['WT','ccs52a2','erf115','erf115 ccs52a2'], datum.g) + 1","as":"i"}],
      "layer":[
       {"mark":{"type":"rule","color":"#222","strokeWidth":2},
        "encoding":{"x":{"field":"i","type":"quantitative","scale":{"domain":[0.5,4.5],"nice":false,"zero":false},"axis":null},"y":{"field":"lo","type":"quantitative","scale":{"domain":[0,84],"nice":false},"axis":null},"y2":{"field":"q1"}}},
       {"mark":{"type":"rule","color":"#222","strokeWidth":2},
        "encoding":{"x":{"field":"i","type":"quantitative","scale":{"domain":[0.5,4.5],"nice":false,"zero":false},"axis":null},"y":{"field":"q3","type":"quantitative","scale":{"domain":[0,84],"nice":false},"axis":null},"y2":{"field":"hi"}}},
       {"mark":{"type":"tick","orient":"horizontal","size":53,"thickness":4,"color":"#111","opacity":1},
        "encoding":{"x":{"field":"i","type":"quantitative","scale":{"domain":[0.5,4.5],"nice":false,"zero":false},"axis":null},"y":{"field":"med","type":"quantitative","scale":{"domain":[0,84],"nice":false},"axis":null}}}
      ]},
     {"data":{"name":"fBr"},
      "transform":[
       {"calculate":"indexof(['WT','ccs52a2','erf115','erf115 ccs52a2'], datum.a) + 1","as":"ia"},
       {"calculate":"indexof(['WT','ccs52a2','erf115','erf115 ccs52a2'], datum.b) + 1","as":"ib"},
       {"calculate":"(datum.ia + datum.ib) / 2","as":"m"},
       {"calculate":"datum.y - 1.5","as":"yd"}],
      "layer":[
       {"mark":{"type":"rule","color":"#111","strokeWidth":1.5},
        "encoding":{"x":{"field":"ia","type":"quantitative","scale":{"domain":[0.5,4.5],"nice":false,"zero":false},"axis":null},"x2":{"field":"ib"},"y":{"field":"y","type":"quantitative","scale":{"domain":[0,84],"nice":false},"axis":null}}},
       {"mark":{"type":"rule","color":"#111","strokeWidth":1.5},
        "encoding":{"x":{"field":"ia","type":"quantitative","scale":{"domain":[0.5,4.5],"nice":false,"zero":false},"axis":null},"y":{"field":"y","type":"quantitative","scale":{"domain":[0,84],"nice":false},"axis":null},"y2":{"field":"yd"}}},
       {"mark":{"type":"rule","color":"#111","strokeWidth":1.5},
        "encoding":{"x":{"field":"ib","type":"quantitative","scale":{"domain":[0.5,4.5],"nice":false,"zero":false},"axis":null},"y":{"field":"y","type":"quantitative","scale":{"domain":[0,84],"nice":false},"axis":null},"y2":{"field":"yd"}}},
       {"mark":{"type":"text","fontSize":20,"fontWeight":"bold","baseline":"alphabetic","dy":5,"color":"#111"},
        "encoding":{"x":{"field":"m","type":"quantitative","scale":{"domain":[0.5,4.5],"nice":false,"zero":false},"axis":null},"y":{"field":"y","type":"quantitative","scale":{"domain":[0,84],"nice":false},"axis":null},"text":{"field":"lab"}}}
      ]}
    ]},
   {"width":308,"height":247,
    "resolve":{"axis":{"x":"independent","y":"independent"}},
    "layer":[
     {"data":{"name":"gDots"},
      "transform":[
       {"calculate":"indexof(['WT','ccs52a2','SRDXox','SRDXox ccs52a2'], datum.g) + 1","as":"i"},
       {"window":[{"op":"row_number","as":"r"}],"groupby":["g","v"]},
       {"joinaggregate":[{"op":"count","as":"n"}],"groupby":["g","v"]},
       {"calculate":"datum.i + (datum.r - (datum.n + 1) / 2) * 0.1","as":"xd"}],
      "mark":{"type":"circle","size":42,"opacity":0.85},
      "encoding":{
       "x":{"field":"xd","type":"quantitative","scale":{"domain":[0.5,4.5],"nice":false,"zero":false},"axis":{"title":null,"values":[1,2,3,4],"labelExpr":"['WT','ccs52a2','SRDXᵒˣ',['SRDXᵒˣ','ccs52a2']][datum.value - 1]","labelFontStyle":{"condition":{"test":"datum.value == 1","value":"normal"},"value":"italic"},"labelFlush":false,"labelBound":false}},
       "y":{"field":"v","type":"quantitative","scale":{"domain":[0,84],"nice":false},"axis":{"title":"Maintenance (hours)","values":[0,12,24,36,48,60,72,84]}},
       "color":{"field":"g","type":"nominal","scale":{"domain":["WT","ccs52a2","SRDXox","SRDXox ccs52a2"],"range":["#8c8c8c","#f37272","#4a79aa","#a7c5e7"]},"legend":null}}},
     {"data":{"name":"gBox"},
      "transform":[{"calculate":"indexof(['WT','ccs52a2','SRDXox','SRDXox ccs52a2'], datum.g) + 1","as":"i"}],
      "mark":{"type":"bar","size":53,"fillOpacity":0,"stroke":"#222","strokeWidth":2},
      "encoding":{"x":{"field":"i","type":"quantitative","scale":{"domain":[0.5,4.5],"nice":false,"zero":false},"axis":{"orient":"top","title":"G","titleX":-41,"titleY":-18,"titleAlign":"left","titleBaseline":"alphabetic","titleAngle":0,"titleFontSize":17,"labels":false,"ticks":false,"domain":false}},"y":{"field":"q1","type":"quantitative","scale":{"domain":[0,84],"nice":false},"axis":{"orient":"left","title":null,"values":[3,6,9,15,18,21,27,30,33,39,42,45,51,54,57,63,66,69,75,78,81],"labels":false,"domain":false,"tickSize":3.5}},"y2":{"field":"q3"}}},
     {"data":{"name":"gBox"},
      "transform":[{"calculate":"indexof(['WT','ccs52a2','SRDXox','SRDXox ccs52a2'], datum.g) + 1","as":"i"}],
      "layer":[
       {"mark":{"type":"rule","color":"#222","strokeWidth":2},
        "encoding":{"x":{"field":"i","type":"quantitative","scale":{"domain":[0.5,4.5],"nice":false,"zero":false},"axis":null},"y":{"field":"lo","type":"quantitative","scale":{"domain":[0,84],"nice":false},"axis":null},"y2":{"field":"q1"}}},
       {"mark":{"type":"rule","color":"#222","strokeWidth":2},
        "encoding":{"x":{"field":"i","type":"quantitative","scale":{"domain":[0.5,4.5],"nice":false,"zero":false},"axis":null},"y":{"field":"q3","type":"quantitative","scale":{"domain":[0,84],"nice":false},"axis":null},"y2":{"field":"hi"}}},
       {"mark":{"type":"tick","orient":"horizontal","size":53,"thickness":4,"color":"#111","opacity":1},
        "encoding":{"x":{"field":"i","type":"quantitative","scale":{"domain":[0.5,4.5],"nice":false,"zero":false},"axis":null},"y":{"field":"med","type":"quantitative","scale":{"domain":[0,84],"nice":false},"axis":null}}}
      ]},
     {"data":{"name":"gBr"},
      "transform":[
       {"calculate":"indexof(['WT','ccs52a2','SRDXox','SRDXox ccs52a2'], datum.a) + 1","as":"ia"},
       {"calculate":"indexof(['WT','ccs52a2','SRDXox','SRDXox ccs52a2'], datum.b) + 1","as":"ib"},
       {"calculate":"(datum.ia + datum.ib) / 2","as":"m"},
       {"calculate":"datum.y - 1.5","as":"yd"}],
      "layer":[
       {"mark":{"type":"rule","color":"#111","strokeWidth":1.5},
        "encoding":{"x":{"field":"ia","type":"quantitative","scale":{"domain":[0.5,4.5],"nice":false,"zero":false},"axis":null},"x2":{"field":"ib"},"y":{"field":"y","type":"quantitative","scale":{"domain":[0,84],"nice":false},"axis":null}}},
       {"mark":{"type":"rule","color":"#111","strokeWidth":1.5},
        "encoding":{"x":{"field":"ia","type":"quantitative","scale":{"domain":[0.5,4.5],"nice":false,"zero":false},"axis":null},"y":{"field":"y","type":"quantitative","scale":{"domain":[0,84],"nice":false},"axis":null},"y2":{"field":"yd"}}},
       {"mark":{"type":"rule","color":"#111","strokeWidth":1.5},
        "encoding":{"x":{"field":"ib","type":"quantitative","scale":{"domain":[0.5,4.5],"nice":false,"zero":false},"axis":null},"y":{"field":"y","type":"quantitative","scale":{"domain":[0,84],"nice":false},"axis":null},"y2":{"field":"yd"}}},
       {"transform":[{"filter":"datum.lab != 'ns'"}],
        "mark":{"type":"text","fontSize":20,"fontWeight":"bold","baseline":"alphabetic","dy":5,"color":"#111"},
        "encoding":{"x":{"field":"m","type":"quantitative","scale":{"domain":[0.5,4.5],"nice":false,"zero":false},"axis":null},"y":{"field":"y","type":"quantitative","scale":{"domain":[0,84],"nice":false},"axis":null},"text":{"field":"lab"}}},
       {"transform":[{"filter":"datum.lab == 'ns'"}],
        "mark":{"type":"text","fontSize":19,"fontWeight":"bold","baseline":"alphabetic","dy":-4,"color":"#111"},
        "encoding":{"x":{"field":"m","type":"quantitative","scale":{"domain":[0.5,4.5],"nice":false,"zero":false},"axis":null},"y":{"field":"y","type":"quantitative","scale":{"domain":[0,84],"nice":false},"axis":null},"text":{"field":"lab"}}}
      ]}
    ]},
   {"width":308,"height":247,
    "resolve":{"axis":{"x":"independent","y":"independent"}},
    "layer":[
     {"data":{"name":"hDots"},
      "transform":[
       {"calculate":"indexof(['WT','ccs','SRDX'], datum.g) + (datum.t == 'Outer' ? 0.75 : 1.25)","as":"gi"},
       {"calculate":"floor(datum.v / 0.13)","as":"b"},
       {"window":[{"op":"row_number","as":"r"}],"groupby":["g","t","b"],"sort":[{"field":"v"}]},
       {"joinaggregate":[{"op":"count","as":"n"}],"groupby":["g","t","b"]},
       {"calculate":"datum.gi + (datum.r - (datum.n + 1) / 2) * 0.055","as":"xd"}],
      "mark":{"type":"circle","size":42,"opacity":0.85},
      "encoding":{
       "x":{"field":"xd","type":"quantitative","scale":{"domain":[0.5,3.5],"nice":false,"zero":false},"axis":{"title":null,"values":[1,1.5,2,2.5,3],"labelExpr":"datum.value == 1 ? 'WT' : datum.value == 2 ? 'ccs52a2' : datum.value == 3 ? ['SRDXᵒˣ','ccs52a2'] : ''","labelFontStyle":{"condition":{"test":"datum.value == 1","value":"normal"},"value":"italic"},"labelFlush":false,"labelBound":false}},
       "y":{"field":"v","type":"quantitative","scale":{"domain":[0,8],"nice":false},"axis":{"title":"LM20/LM19 ratio","values":[0,2,4,6,8]}},
       "color":{"field":"t","type":"nominal","scale":{"domain":["Outer","Inner"],"range":["#8c8c8c","#f37272"]},"legend":{"title":null,"orient":"none","legendX":10,"legendY":26,"symbolType":"M-1,-1H2.88V1H-1Z","symbolSize":289,"symbolOpacity":1,"symbolStrokeWidth":0,"labelFontSize":18,"labelFontWeight":"bold","labelColor":"#000","labelOffset":20,"rowPadding":4}}}},
     {"data":{"name":"hBox"},
      "transform":[{"calculate":"indexof(['WT','ccs','SRDX'], datum.g) + (datum.t == 'Outer' ? 0.75 : 1.25)","as":"gi"}],
      "mark":{"type":"bar","size":38,"fillOpacity":0,"stroke":"#111","strokeWidth":2},
      "encoding":{"x":{"field":"gi","type":"quantitative","scale":{"domain":[0.5,3.5],"nice":false,"zero":false},"axis":{"orient":"top","title":"H","titleX":-49,"titleY":-18,"titleAlign":"left","titleBaseline":"alphabetic","titleAngle":0,"titleFontSize":17,"labels":false,"ticks":false,"domain":false}},"y":{"field":"q1","type":"quantitative","scale":{"domain":[0,8],"nice":false},"axis":{"orient":"left","title":null,"values":[1,3,5,7],"labels":false,"domain":false,"tickSize":3.5}},"y2":{"field":"q3"}}},
     {"data":{"name":"hBox"},
      "transform":[{"calculate":"indexof(['WT','ccs','SRDX'], datum.g) + (datum.t == 'Outer' ? 0.75 : 1.25)","as":"gi"}],
      "layer":[
       {"mark":{"type":"rule","color":"#111","strokeWidth":2.5},
        "encoding":{"x":{"field":"gi","type":"quantitative","scale":{"domain":[0.5,3.5],"nice":false,"zero":false},"axis":null},"y":{"field":"lo","type":"quantitative","scale":{"domain":[0,8],"nice":false},"axis":null},"y2":{"field":"hi"}}},
       {"mark":{"type":"tick","orient":"horizontal","size":38,"thickness":4,"color":"#111","opacity":1},
        "encoding":{"x":{"field":"gi","type":"quantitative","scale":{"domain":[0.5,3.5],"nice":false,"zero":false},"axis":null},"y":{"field":"med","type":"quantitative","scale":{"domain":[0,8],"nice":false},"axis":null}}}
      ]},
     {"data":{"name":"hBr"},
      "transform":[
       {"calculate":"indexof(['WT','ccs','SRDX'], datum.a) + (datum.at == 'Outer' ? 0.75 : 1.25)","as":"ia"},
       {"calculate":"indexof(['WT','ccs','SRDX'], datum.b) + (datum.bt == 'Outer' ? 0.75 : 1.25)","as":"ib"},
       {"calculate":"(datum.ia + datum.ib) / 2","as":"m"},
       {"calculate":"datum.y - 0.15","as":"yd"}],
      "layer":[
       {"mark":{"type":"rule","color":"#111","strokeWidth":1.5},
        "encoding":{"x":{"field":"ia","type":"quantitative","scale":{"domain":[0.5,3.5],"nice":false,"zero":false},"axis":null},"x2":{"field":"ib"},"y":{"field":"y","type":"quantitative","scale":{"domain":[0,8],"nice":false},"axis":null}}},
       {"mark":{"type":"rule","color":"#111","strokeWidth":1.5},
        "encoding":{"x":{"field":"ia","type":"quantitative","scale":{"domain":[0.5,3.5],"nice":false,"zero":false},"axis":null},"y":{"field":"y","type":"quantitative","scale":{"domain":[0,8],"nice":false},"axis":null},"y2":{"field":"yd"}}},
       {"mark":{"type":"rule","color":"#111","strokeWidth":1.5},
        "encoding":{"x":{"field":"ib","type":"quantitative","scale":{"domain":[0.5,3.5],"nice":false,"zero":false},"axis":null},"y":{"field":"y","type":"quantitative","scale":{"domain":[0,8],"nice":false},"axis":null},"y2":{"field":"yd"}}},
       {"mark":{"type":"text","fontSize":19,"fontWeight":"bold","baseline":"alphabetic","dy":-4,"color":"#111"},
        "encoding":{"x":{"field":"m","type":"quantitative","scale":{"domain":[0.5,3.5],"nice":false,"zero":false},"axis":null},"y":{"field":"y","type":"quantitative","scale":{"domain":[0,8],"nice":false},"axis":null},"text":{"field":"lab"}}}
      ]}
    ]}
 ]}
]
}
